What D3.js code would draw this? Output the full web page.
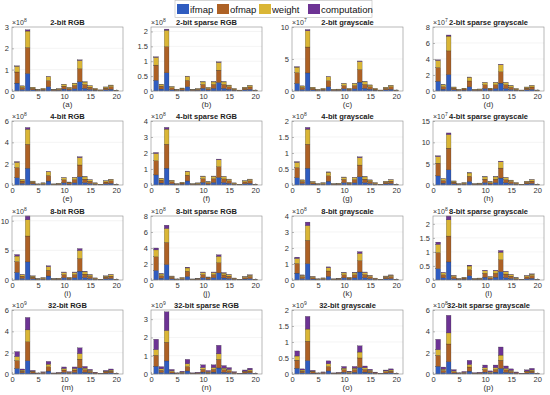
<!DOCTYPE html>
<html>
<head>
<meta charset="utf-8">
<script src="https://cdn.jsdelivr.net/npm/d3@7"></script>
<style>
  body { margin: 0; background: #fff; }
  svg text { font-family: "Liberation Sans", Arial, sans-serif; }
</style>
</head>
<body>
<script>
// ---- data ----
const layers = [1,2,3,4,5,6,7,8,9,10,11,12,13,14,15,16,17,18,19,20];
const seriesNames = ["ifmap", "ofmap", "weight", "computation"];
const titles = ["2-bit RGB","2-bit sparse RGB","2-bit grayscale","2-bit sparse grayscale",
  "4-bit RGB","4-bit sparse RGB","4-bit grayscale","4-bit sparse grayscale",
  "8-bit RGB","8-bit sparse RGB","8-bit grayscale","8-bit sparse grayscale",
  "32-bit RGB","32-bit sparse RGB","32-bit grayscale","32-bit sparse grayscale"];
const panelTags = ["(a)","(b)","(c)","(d)","(e)","(f)","(g)","(h)","(i)","(j)","(k)","(l)","(m)","(n)","(o)","(p)"];
const exponents = [8,8,7,7, 8,8,8,7, 8,8,8,8, 9,9,9,8];
const yMax = [3,2.15,10,8, 6,4,2,15, 10.8,8,4,2.28, 6,3.5,2,6];
const yTicks = [[0,1,2,3],[0,0.5,1,1.5,2],[0,5,10],[0,2,4,6,8],
  [0,2,4,6],[0,1,2,3,4],[0,0.5,1,1.5,2],[0,5,10,15],
  [0,5,10],[0,2,4,6,8],[0,1,2,3,4],[0,0.5,1,1.5,2],
  [0,2,4,6],[0,1,2,3],[0,0.5,1,1.5,2],[0,2,4,6]];
const xTicks = [0,5,10,15,20];

// values per panel (in units of 10^exponent), one row per panel
const ifmap = [
  [.37,.07,.82,.053,.021,.035,.2,.021,.032,.094,.05,.109,.43,.126,.074,.035,.015,.056,.082,.012],
  [.36,.068,.61,.044,.015,.029,.147,.015,.024,.091,.035,.091,.288,.091,.059,.024,.009,.038,.056,.009],
  [1.19,.235,2.82,.176,.074,.118,.66,.074,.088,.353,.118,.353,1.38,.426,.279,.118,.044,.176,.265,.044],
  [1.22,.229,2.06,.147,.059,.103,.515,.059,.074,.317,.103,.317,.985,.317,.191,.088,.035,.147,.206,.035],
  [.68,.154,1.57,.108,.029,.058,.37,.029,.044,.204,.082,.209,.77,.227,.146,.058,.02,.116,.16,.023],
  [.63,.125,1.05,.087,.023,.049,.253,.023,.038,.163,.058,.163,.471,.157,.108,.038,.015,.079,.108,.015],
  [.227,.047,.524,.032,.012,.02,.119,.012,.015,.073,.023,.07,.256,.076,.047,.02,.006,.035,.049,.006],
  [2.13,.437,3.55,.276,.087,.16,.844,.087,.131,.567,.218,.567,1.63,.524,.335,.16,.058,.262,.378,.058],
  [1.29,.268,3.05,.197,.056,.113,.677,.056,.085,.381,.127,.381,1.495,.409,.254,.099,.034,.197,.268,.034],
  [1.2,.226,1.93,.141,.037,.085,.451,.037,.056,.282,.107,.282,.888,.259,.197,.07,.023,.127,.183,.023],
  [.43,.09,1.02,.065,.02,.037,.231,.02,.028,.133,.048,.133,.499,.141,.085,.034,.011,.07,.09,.011],
  [.406,.076,.643,.048,.014,.028,.149,.014,.02,.099,.034,.099,.296,.087,.056,.023,.008,.045,.062,.008],
  [.524,.11,1.24,.08,.023,.047,.276,.023,.035,.154,.052,.154,.573,.166,.103,.04,.014,.08,.11,.014],
  [.426,.084,.714,.053,.014,.032,.168,.014,.021,.105,.04,.105,.33,.097,.074,.026,.008,.046,.067,.008],
  [.18,.037,.421,.027,.008,.015,.096,.008,.012,.055,.02,.055,.206,.059,.035,.014,.005,.029,.037,.005],
  [.728,.137,1.155,.086,.025,.05,.269,.025,.036,.176,.061,.176,.531,.158,.101,.04,.015,.082,.111,.015]
];
const ofmap = [
  [.52,.10,1.22,.076,.03,.05,.29,.03,.046,.135,.072,.156,.615,.181,.105,.05,.021,.08,.118,.017],
  [.51,.097,.88,.063,.021,.042,.211,.021,.034,.131,.051,.131,.413,.131,.084,.034,.013,.055,.08,.013],
  [1.68,.336,4.05,.253,.105,.169,.95,.105,.126,.506,.169,.506,1.98,.611,.4,.169,.063,.253,.379,.063],
  [1.72,.329,2.95,.211,.084,.147,.737,.084,.105,.455,.147,.455,1.41,.455,.274,.126,.051,.211,.295,.051],
  [.96,.221,2.25,.154,.042,.083,.53,.042,.063,.292,.117,.3,1.105,.325,.209,.083,.029,.167,.23,.033],
  [.886,.179,1.5,.125,.033,.071,.363,.033,.054,.234,.083,.234,.676,.225,.154,.054,.021,.113,.154,.021],
  [.319,.067,.751,.046,.017,.029,.171,.017,.021,.104,.033,.1,.367,.108,.067,.029,.008,.05,.071,.008],
  [2.99,.626,5.09,.396,.125,.229,1.21,.125,.188,.813,.313,.813,2.336,.751,.48,.229,.083,.375,.542,.083],
  [1.82,.384,4.37,.283,.081,.162,.97,.081,.121,.546,.182,.546,2.142,.586,.364,.141,.049,.283,.384,.049],
  [1.69,.323,2.77,.202,.052,.121,.647,.052,.081,.404,.154,.404,1.273,.372,.283,.101,.032,.182,.263,.032],
  [.605,.129,1.463,.093,.028,.052,.331,.028,.04,.19,.069,.19,.715,.202,.121,.049,.016,.101,.129,.016],
  [.571,.109,.922,.069,.02,.04,.214,.02,.028,.141,.049,.141,.424,.125,.081,.032,.012,.065,.089,.012],
  [.737,.158,1.778,.114,.034,.067,.396,.034,.05,.221,.074,.221,.822,.238,.148,.057,.02,.114,.158,.02],
  [.599,.12,1.023,.075,.02,.045,.241,.02,.03,.15,.057,.15,.473,.138,.105,.038,.012,.066,.096,.012],
  [.253,.054,.604,.039,.012,.022,.138,.012,.017,.079,.028,.079,.295,.084,.05,.02,.007,.042,.054,.007],
  [1.024,.196,1.656,.123,.036,.072,.385,.036,.051,.253,.087,.253,.762,.226,.144,.057,.021,.117,.16,.021]
];
const weight = [
  [.27,.065,.77,.048,.018,.032,.18,.018,.029,.085,.045,.098,.386,.113,.066,.032,.013,.05,.074,.011],
  [.26,.061,.55,.04,.013,.027,.132,.013,.021,.082,.032,.082,.259,.082,.053,.021,.008,.034,.05,.008],
  [.86,.21,2.54,.159,.066,.106,.6,.066,.079,.318,.106,.318,1.24,.384,.251,.106,.04,.159,.238,.04],
  [.88,.206,1.85,.132,.053,.093,.463,.053,.066,.286,.093,.286,.886,.286,.172,.079,.032,.132,.185,.032],
  [.49,.139,1.41,.097,.026,.052,.333,.026,.039,.183,.073,.189,.694,.204,.131,.052,.019,.105,.144,.021],
  [.453,.113,.943,.079,.021,.045,.228,.021,.034,.146,.052,.146,.424,.142,.097,.034,.013,.07,.097,.013],
  [.163,.041,.471,.029,.01,.019,.108,.01,.013,.065,.021,.063,.231,.068,.041,.019,.005,.031,.045,.005],
  [1.53,.393,3.19,.249,.079,.144,.76,.079,.118,.511,.196,.511,1.467,.471,.301,.144,.052,.236,.34,.052],
  [.93,.241,2.74,.178,.051,.101,.609,.051,.076,.342,.114,.342,1.345,.368,.228,.089,.03,.178,.241,.03],
  [.87,.203,1.74,.127,.033,.076,.406,.033,.051,.254,.096,.254,.8,.234,.178,.064,.02,.114,.165,.02],
  [.309,.081,.919,.058,.018,.033,.208,.018,.025,.119,.043,.119,.449,.127,.076,.03,.01,.064,.081,.01],
  [.292,.069,.578,.043,.013,.025,.135,.013,.018,.089,.03,.089,.267,.079,.051,.02,.008,.04,.056,.008],
  [.377,.099,1.116,.072,.021,.042,.248,.021,.032,.139,.046,.139,.516,.15,.093,.036,.013,.072,.099,.013],
  [.306,.076,.643,.047,.012,.028,.151,.012,.019,.095,.036,.095,.297,.087,.066,.024,.008,.042,.06,.008],
  [.129,.034,.379,.024,.007,.014,.086,.007,.01,.049,.018,.049,.185,.052,.032,.013,.004,.026,.034,.004],
  [.523,.123,1.04,.077,.023,.045,.242,.023,.032,.159,.055,.159,.478,.142,.091,.036,.013,.074,.1,.013]
];
const computation = [
  [.02,.005,.06,.004,.001,.003,.014,.001,.003,.006,.003,.007,.03,.009,.005,.003,.001,.004,.006,.001],
  [.02,.005,.04,.003,.001,.002,.01,.001,.002,.006,.002,.006,.02,.006,.004,.002,.001,.003,.004,.001],
  [.08,.016,.19,.012,.005,.008,.045,.005,.006,.024,.008,.024,.094,.029,.019,.008,.003,.012,.018,.003],
  [.08,.016,.14,.01,.004,.007,.035,.004,.005,.022,.007,.022,.067,.022,.013,.006,.002,.01,.014,.002],
  [.066,.016,.16,.011,.003,.006,.038,.003,.004,.021,.008,.022,.08,.023,.015,.006,.002,.012,.016,.003],
  [.061,.013,.108,.009,.003,.005,.026,.003,.004,.017,.006,.017,.049,.016,.011,.004,.001,.008,.011,.001],
  [.022,.005,.054,.003,.001,.002,.012,.001,.001,.008,.003,.007,.026,.008,.005,.002,.001,.004,.005,.001],
  [.205,.045,.37,.029,.009,.017,.087,.009,.014,.059,.023,.059,.168,.054,.035,.017,.006,.027,.039,.006],
  [.258,.057,.648,.042,.012,.024,.144,.012,.018,.081,.027,.081,.318,.087,.054,.021,.007,.042,.057,.007],
  [.24,.048,.41,.03,.008,.018,.096,.008,.012,.06,.023,.06,.189,.055,.042,.015,.005,.027,.039,.005],
  [.086,.019,.217,.014,.004,.008,.049,.004,.006,.028,.01,.028,.106,.03,.018,.007,.003,.015,.019,.003],
  [.081,.016,.137,.01,.003,.006,.032,.003,.004,.021,.007,.021,.063,.019,.012,.005,.002,.01,.013,.002],
  [.462,.103,1.166,.075,.022,.044,.26,.022,.033,.145,.048,.145,.539,.156,.097,.037,.013,.075,.103,.013],
  [.57,.12,1.02,.075,.019,.045,.24,.019,.03,.15,.057,.15,.471,.138,.105,.038,.012,.066,.096,.012],
  [.158,.035,.396,.025,.008,.014,.09,.008,.011,.052,.019,.052,.194,.055,.033,.013,.004,.028,.035,.004],
  [.975,.195,1.65,.123,.036,.072,.384,.036,.051,.252,.087,.252,.759,.225,.144,.057,.021,.117,.159,.021]
];

// ---- layout ----
const W = 550, H = 395;
const colors = { ifmap: "#2f5cc0", ofmap: "#ad6125", weight: "#dab636", computation: "#6d3394" };
const colLeft = [12, 151, 292, 433];
const rowTop = [27, 121, 216, 310];
const pw = 111, ph = 64;

const svg = d3.select("body").append("svg")
  .attr("width", W).attr("height", H);

const dataBySeries = { ifmap: ifmap, ofmap: ofmap, weight: weight, computation: computation };

titles.forEach(function(title, k) {
  const x0 = colLeft[k % 4], y0 = rowTop[Math.floor(k / 4)];
  const g = svg.append("g").attr("transform", "translate(" + x0 + "," + y0 + ")");

  const x = d3.scaleLinear().domain([0, 21.3]).range([0, pw]);
  const y = d3.scaleLinear().domain([0, yMax[k]]).range([ph, 0]);

  // light grid
  g.append("g").selectAll("line").data(yTicks[k].filter(v => v > 0 && v < yMax[k]))
    .enter().append("line")
    .attr("x1", 0).attr("x2", pw)
    .attr("y1", d => y(d)).attr("y2", d => y(d))
    .attr("stroke", "#ececec").attr("stroke-width", 0.6);

  const rows = layers.map(function(l, j) {
    const r = { layer: l };
    seriesNames.forEach(s => { r[s] = dataBySeries[s][k][j]; });
    return r;
  });
  const stacked = d3.stack().keys(seriesNames)(rows);
  const bw = x(0.9) - x(0);

  g.selectAll("g.series").data(stacked).enter().append("g")
    .attr("class", "series")
    .attr("fill", d => colors[d.key])
    .selectAll("rect").data(d => d).enter().append("rect")
    .attr("x", d => x(d.data.layer) - bw / 2)
    .attr("width", bw)
    .attr("y", d => y(d[1]))
    .attr("height", d => Math.max(0, y(d[0]) - y(d[1])))
    .attr("stroke", "#2a2a2a").attr("stroke-width", 0.25);

  // axes
  const xAxis = d3.axisBottom(x).tickValues(xTicks).tickSizeInner(-2).tickSizeOuter(0).tickPadding(3);
  const yAxis = d3.axisLeft(y).tickValues(yTicks[k]).tickFormat(d3.format("~g"))
    .tickSizeInner(-2).tickSizeOuter(0).tickPadding(3);
  const gx = g.append("g").attr("transform", "translate(0," + ph + ")").call(xAxis);
  const gy = g.append("g").call(yAxis);
  [gx, gy].forEach(a => {
    a.select(".domain").remove();
    a.selectAll("line").attr("stroke", "#777").attr("stroke-width", 0.5);
    a.selectAll("text").attr("fill", "#333").style("font-size", "7.5px");
  });

  // box
  g.append("rect").attr("width", pw).attr("height", ph)
    .attr("fill", "none").attr("stroke", "#8a8a8a").attr("stroke-width", 0.6);

  // exponent label
  const ex = g.append("text").attr("x", 0).attr("y", -2.5)
    .attr("fill", "#333").style("font-size", "7px");
  ex.append("tspan").text("\u00d710");
  ex.append("tspan").attr("dy", -3).style("font-size", "5px").text(exponents[k]);

  // title
  g.append("text").attr("x", pw / 2).attr("y", -2)
    .attr("text-anchor", "middle").attr("font-weight", "bold")
    .attr("fill", "#222").style("font-size", "7.5px").text(title);

  // panel tag
  g.append("text").attr("x", pw / 2).attr("y", ph + 16)
    .attr("text-anchor", "middle").attr("fill", "#333")
    .style("font-size", "8px").text(panelTags[k]);
});

// ---- legend ----
const legend = svg.append("g");
legend.append("rect").attr("x", 175).attr("y", 0.5).attr("width", 197).attr("height", 17)
  .attr("fill", "#fff").attr("stroke", "#bbb").attr("stroke-width", 0.6);
const legX = [177, 217, 259, 308];
seriesNames.forEach(function(s, i) {
  legend.append("rect").attr("x", legX[i]).attr("y", 4).attr("width", 12).attr("height", 10)
    .attr("fill", colors[s]);
  legend.append("text").attr("x", legX[i] + 13).attr("y", 13)
    .attr("fill", "#111").style("font-size", "9.5px").text(s);
});
</script>
</body>
</html>
